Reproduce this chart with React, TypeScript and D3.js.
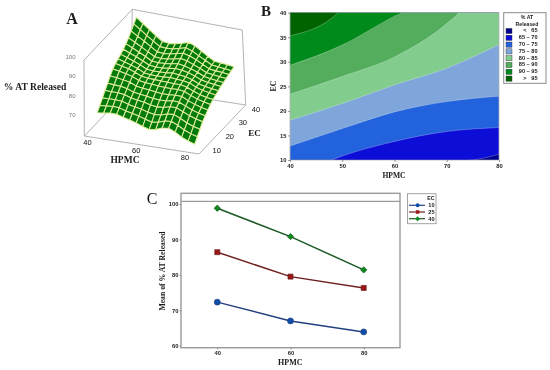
import React, { useEffect, useRef } from "react";
import * as d3 from "d3";

const SERIF = "'Liberation Serif', serif";
const SANS = "'Liberation Sans', sans-serif";

// panel A: response surface, rows run EC 10 -> 40, columns HPMC 40 -> 80
const surfaceRows = [
  [70.8, 71.2, 71.7, 71.6, 70.6, 69.7, 68.7, 67.4, 66.3, 66.8, 68.2, 68.6, 67.1, 65, 63.5, 62.4],
  [73.1, 73.4, 73.7, 73.5, 72.4, 71.6, 70.8, 69.7, 68.7, 69.2, 70.4, 70.7, 69.2, 67.3, 65.8, 64.9],
  [75.6, 75.7, 75.8, 75.5, 74.4, 73.6, 73, 71.9, 71.3, 71.5, 72.6, 72.8, 71.3, 69.5, 68.2, 67.3],
  [78.1, 78, 78, 77.5, 76.3, 75.7, 75.1, 74.3, 73.8, 74, 74.9, 74.9, 73.4, 71.8, 70.7, 69.8],
  [80.4, 80.1, 79.9, 79.2, 77.9, 77.3, 76.8, 76.2, 75.9, 76, 76.6, 76.4, 74.9, 73.4, 72.3, 71.5],
  [82.8, 82.4, 81.8, 81.1, 79.6, 79.1, 78.6, 78.1, 77.8, 77.8, 78.1, 77.9, 76.2, 74.9, 73.8, 73.1],
  [85, 84.3, 83.6, 82.6, 81.1, 80.5, 80.2, 79.8, 79.6, 79.5, 79.6, 79.1, 77.5, 76.2, 75.2, 74.5],
  [86.4, 85.5, 84.7, 83.4, 81.9, 81.4, 81.2, 81, 80.9, 80.7, 80.6, 79.9, 78.3, 77.1, 76.2, 75.6],
  [87.3, 86.3, 85.2, 84, 82.2, 81.8, 81.7, 81.7, 81.9, 81.6, 81.3, 80.6, 79, 77.9, 77.2, 76.6],
  [88.3, 87.1, 85.8, 84.4, 82.7, 82.3, 82.3, 82.5, 82.8, 82.4, 81.9, 80.9, 79.3, 78.5, 77.8, 77.3],
  [89.5, 88, 86.7, 85, 83.3, 82.9, 83, 83.4, 83.8, 83.4, 82.6, 81.4, 79.9, 79.1, 78.6, 78.1],
  [90.9, 89.3, 87.6, 85.9, 84, 83.7, 83.9, 84.3, 84.8, 84.2, 83.2, 82, 80.3, 79.7, 79.2, 78.8],
  [92.6, 90.7, 88.8, 86.9, 84.9, 84.5, 84.8, 85.3, 86.1, 85.3, 84, 82.5, 80.8, 80.3, 79.8, 79.4],
  [94.7, 92.5, 90.5, 88.2, 86, 85.7, 86, 86.7, 87.4, 86.5, 85, 83.2, 81.4, 80.9, 80.6, 80.1],
  [96.9, 94.5, 92, 89.6, 87.3, 87, 87.2, 87.9, 88.8, 87.6, 85.7, 83.9, 82, 81.5, 81.1, 80.6],
  [99, 96.3, 93.6, 91, 88.5, 88.1, 88.4, 89.2, 90.2, 88.9, 86.7, 84.5, 82.5, 82.2, 81.8, 81.3],
];
const surfaceZTicks = [70, 80, 90, 100];
const surfaceHpmcTicks = [40, 60, 80];
const surfaceEcTicks = [10, 20, 30, 40];

// panel B: contour boundaries as [HPMC, EC], clipped by the plot box
const boundary65 = [[40, 8], [75, 10], [80, 11.2]];
const boundary70 = [[40, 6], [48, 10], [59.7, 13.7], [70, 15.8], [80, 16.6]];
const boundary75 = [[40, 12.85], [50, 16.4], [60, 19.8], [70, 21.9], [80, 23]];
const boundary80 = [[40, 18.1], [50, 21.5], [60, 25.3], [70, 28.7], [80, 33.5]];
const boundary85 = [[40, 23.4], [50, 27], [60, 31], [70, 37.8], [72.3, 40], [73, 41]];
const boundary90 = [[40, 29.3], [50, 33.4], [60, 39.3], [61.3, 40], [62, 41]];
const boundary95 = [[40, 35.3], [49.2, 40], [50, 41]];
const contourBoundaries = [boundary65, boundary70, boundary75, boundary80, boundary85, boundary90, boundary95];
const contourColors = ["#050590", "#0a0ad8", "#2462dc", "#7ea6da", "#82cc8e", "#52ad5c", "#068a1c", "#006400"];
const contourLabels = ["<\u00a0\u00a0\u00a065", "65 – 70", "70 – 75", "75 – 80", "80 – 85", "85 – 90", "90 – 95", ">\u00a0\u00a0\u00a095"];
const contourXTicks = [40, 50, 60, 70, 80];
const contourYTicks = [10, 15, 20, 25, 30, 35, 40];

// panel C: interaction plot
const hpmcLevels = [40, 60, 80];
const ecLevels = ["10", "25", "40"];
const meanEc10 = [72.3, 67, 63.9];
const meanEc25 = [86.4, 79.5, 76.3];
const meanEc40 = [98.8, 90.8, 81.4];
const meanSeries = [meanEc10, meanEc25, meanEc40];
const lineColors = ["#24407f", "#6e2020", "#1c5a26"];
const markerColors = ["#0d4fa8", "#9c1414", "#0a8a1e"];
const markerShapes = [d3.symbolCircle, d3.symbolSquare, d3.symbolSquare];
const markerSizes = [28, 25, 20];
const markerTurn = [0, 0, 45];
const meanYTicks = [60, 70, 80, 90, 100];

const label = (g, x, y, text, size, opts: any = {}) =>
  g
    .append("text")
    .attr("x", x)
    .attr("y", y)
    .attr("text-anchor", opts.anchor || "middle")
    .attr("dy", "0.35em")
    .attr("font-family", opts.family || SERIF)
    .attr("font-weight", opts.weight || "bold")
    .attr("font-size", size)
    .attr("fill", opts.fill || "#1a1a1a")
    .attr("transform", opts.rotate ? `rotate(${opts.rotate},${x},${y})` : null)
    .text(text);

const drawSurface = (g) => {
  const FL = [84.3, 136];
  const FR = [199, 154];
  const BR = [245.7, 105];
  const BL = [131, 87];
  const hpmcT = d3.scaleLinear().domain([40, 80]).range([0.08, 0.93]);
  const ecT = d3.scaleLinear().domain([10, 40]).range([0.08, 0.92]);
  const lift = d3.scaleLinear().domain([60, 100]).range([0, 77]);
  const rowEc = d3.scaleLinear().domain([0, surfaceRows.length - 1]).range([10, 40]);
  const colHpmc = d3.scaleLinear().domain([0, surfaceRows[0].length - 1]).range([40, 80]);

  const floor = (u, v) => [
    FL[0] + u * (FR[0] - FL[0]) + v * (BL[0] - FL[0]),
    FL[1] + u * (FR[1] - FL[1]) + v * (BL[1] - FL[1]),
  ];
  const project = (hpmc, ec, z) => {
    const p = floor(hpmcT(hpmc), ecT(ec));
    return [p[0], p[1] - lift(z)];
  };

  // box
  const boxLines = [
    [FL, FR], [FR, BR], [FL, BL], [BL, BR],
    [FL, [84, 60]], [[84, 60], [132.3, 9.3]], [[132.3, 9.3], [242.3, 30]], [[242.3, 30], BR], [BL, [132.3, 9.3]],
  ];
  g.append("g")
    .selectAll("line")
    .data(boxLines)
    .join("line")
    .attr("x1", (d) => d[0][0])
    .attr("y1", (d) => d[0][1])
    .attr("x2", (d) => d[1][0])
    .attr("y2", (d) => d[1][1])
    .attr("stroke", "#aaaaaa")
    .attr("stroke-width", 0.9);

  // cells back to front
  const cellLine = d3.line();
  const mesh = g.append("g");
  for (let j = surfaceRows.length - 2; j >= 0; j--) {
    for (let i = 0; i < surfaceRows[j].length - 1; i++) {
      const a = project(colHpmc(i), rowEc(j), surfaceRows[j][i]);
      const b = project(colHpmc(i + 1), rowEc(j), surfaceRows[j][i + 1]);
      const c = project(colHpmc(i + 1), rowEc(j + 1), surfaceRows[j + 1][i + 1]);
      const e = project(colHpmc(i), rowEc(j + 1), surfaceRows[j + 1][i]);
      mesh
        .append("path")
        .attr("d", cellLine([a, b, c, e]) + "Z")
        .attr("fill", "#067a0c")
        .attr("stroke", "#dcec96")
        .attr("stroke-width", 1.05)
        .attr("stroke-linejoin", "round");
    }
  }

  surfaceZTicks.forEach((t) => {
    label(g, 75.5, FL[1] - lift(t) - 2, String(t), 6, { family: SANS, weight: "normal", fill: "#777", anchor: "end" });
  });
  surfaceHpmcTicks.forEach((t) => {
    const p = floor(hpmcT(t), 0);
    label(g, p[0] - 6, p[1] + 5, String(t), 7.5, { family: SANS, weight: "normal", fill: "#111" });
  });
  surfaceEcTicks.forEach((t) => {
    const v = ecT(t);
    label(g, FR[0] + v * (BR[0] - FR[0]) + 14, FR[1] + v * (BR[1] - FR[1]), String(t), 7.5, { family: SANS, weight: "normal", fill: "#111" });
  });
  label(g, 35, 87, "% AT Released", 9.6);
  label(g, 125, 159.5, "HPMC", 9.5);
  label(g, 254.5, 132.5, "EC", 9);
  label(g, 72, 18, "A", 16);
};

const drawContour = (g) => {
  const x = d3.scaleLinear().domain([40, 80]).range([290, 499]);
  const y = d3.scaleLinear().domain([10, 40]).range([160, 12.7]);

  g.append("clipPath")
    .attr("id", "contour-clip")
    .append("rect")
    .attr("x", 290)
    .attr("y", 12.7)
    .attr("width", 209)
    .attr("height", 147.3);

  const plot = g.append("g").attr("clip-path", "url(#contour-clip)");
  plot.append("rect").attr("x", 290).attr("y", 12.7).attr("width", 209).attr("height", 147.3).attr("fill", contourColors[0]);

  const area = d3
    .area()
    .x((d) => x(d[0]))
    .y0((d) => y(d[1]))
    .y1(y(42))
    .curve(d3.curveMonotoneX);

  contourBoundaries.forEach((b, k) => {
    plot
      .append("path")
      .attr("d", area(b))
      .attr("fill", contourColors[k + 1])
      .attr("stroke", "#ffffff")
      .attr("stroke-opacity", 0.45)
      .attr("stroke-width", 0.6);
  });

  g.append("rect")
    .attr("x", 290)
    .attr("y", 12.7)
    .attr("width", 209)
    .attr("height", 147.3)
    .attr("fill", "none")
    .attr("stroke", "#9a9a9a")
    .attr("stroke-width", 0.6);

  const xAxis = g
    .append("g")
    .attr("transform", "translate(0,160)")
    .call(d3.axisBottom(x).tickValues(contourXTicks).tickSize(2).tickPadding(1.5));
  const yAxis = g
    .append("g")
    .attr("transform", "translate(290,0)")
    .call(d3.axisLeft(y).tickValues(contourYTicks).tickSize(2).tickPadding(1.5));
  [xAxis, yAxis].forEach((a) => {
    a.select(".domain").remove();
    a.selectAll("line").attr("stroke", "#555").attr("stroke-width", 0.6);
    a.selectAll("text").attr("font-family", SANS).attr("font-weight", "bold").attr("font-size", 5.8).attr("fill", "#222");
  });

  label(g, 394, 175, "HPMC", 7.6);
  label(g, 273, 86, "EC", 7.8, { rotate: -90 });
  label(g, 266, 11, "B", 15);

  // legend
  g.append("rect")
    .attr("x", 503.7)
    .attr("y", 12.7)
    .attr("width", 42.3)
    .attr("height", 70.6)
    .attr("fill", "#fff")
    .attr("stroke", "#8a8a8a")
    .attr("stroke-width", 1);
  label(g, 527, 17.5, "% AT", 5.2, { family: SANS });
  label(g, 527, 24.6, "Released", 5.2, { family: SANS });
  const row = d3.scaleLinear().domain([0, 7]).range([31, 78.6]);
  contourLabels.forEach((t, k) => {
    g.append("rect")
      .attr("x", 506)
      .attr("y", row(k) - 2.6)
      .attr("width", 6)
      .attr("height", 5.2)
      .attr("fill", contourColors[k])
      .attr("stroke", "#333")
      .attr("stroke-width", 0.4);
    label(g, 537.5, row(k) - 0.6, t, 5.6, { family: SANS, anchor: "end" });
  });
};

const drawInteraction = (g) => {
  const x = d3.scalePoint().domain(hpmcLevels.map(String)).range([217.3, 363.7]);
  const y = d3.scaleLinear().domain([60, 100]).range([345.7, 204]);

  g.append("rect")
    .attr("x", 181)
    .attr("y", 193.3)
    .attr("width", 219)
    .attr("height", 154.4)
    .attr("fill", "#fff")
    .attr("stroke", "#9a9a9a")
    .attr("stroke-width", 1.4);
  g.append("line").attr("x1", 181).attr("x2", 400).attr("y1", 201.3).attr("y2", 201.3).attr("stroke", "#9a9a9a").attr("stroke-width", 1.2);

  const xAxis = g
    .append("g")
    .attr("transform", "translate(0,347.7)")
    .call(d3.axisBottom(x).tickSize(2).tickPadding(1.5));
  const yAxis = g
    .append("g")
    .attr("transform", "translate(181,0)")
    .call(d3.axisLeft(y).tickValues(meanYTicks).tickSize(1.5).tickPadding(1));
  [xAxis, yAxis].forEach((a) => {
    a.select(".domain").remove();
    a.selectAll("line").attr("stroke", "#666").attr("stroke-width", 0.6);
    a.selectAll("text").attr("font-family", SANS).attr("font-weight", "bold").attr("font-size", 5.8).attr("fill", "#222");
  });

  const line = d3
    .line()
    .x((_, i) => x(String(hpmcLevels[i])))
    .y((d) => y(d));

  meanSeries.forEach((values, k) => {
    g.append("path").attr("d", line(values)).attr("fill", "none").attr("stroke", lineColors[k]).attr("stroke-width", 1.5);
    g.append("g")
      .selectAll("path")
      .data(values)
      .join("path")
      .attr("d", d3.symbol().type(markerShapes[k]).size(markerSizes[k]))
      .attr("transform", (d, i) => `translate(${x(String(hpmcLevels[i]))},${y(d)}) rotate(${markerTurn[k]})`)
      .attr("fill", markerColors[k])
      .attr("stroke", lineColors[k])
      .attr("stroke-width", 0.7);
  });

  label(g, 290.3, 362, "HPMC", 8);
  label(g, 162, 271, "Mean of % AT Released", 7.7, { rotate: -90 });
  label(g, 152, 198, "C", 16, { weight: "normal", fill: "#111" });

  // legend
  g.append("rect")
    .attr("x", 407.5)
    .attr("y", 193.7)
    .attr("width", 28.5)
    .attr("height", 30)
    .attr("fill", "#fff")
    .attr("stroke", "#9a9a9a")
    .attr("stroke-width", 0.9);
  label(g, 434.5, 198.5, "EC", 5.2, { family: SANS, anchor: "end" });
  const row = d3.scaleLinear().domain([0, 2]).range([205.3, 218.7]);
  ecLevels.forEach((t, k) => {
    g.append("line").attr("x1", 409).attr("x2", 425).attr("y1", row(k)).attr("y2", row(k)).attr("stroke", lineColors[k]).attr("stroke-width", 1.2);
    g.append("path")
      .attr("d", d3.symbol().type(markerShapes[k]).size(12))
      .attr("transform", `translate(417.6,${row(k)}) rotate(${markerTurn[k]})`)
      .attr("fill", markerColors[k]);
    label(g, 434.5, row(k), t, 5.6, { family: SANS, anchor: "end" });
  });
};

const App = () => {
  const ref = useRef(null);

  useEffect(() => {
    const svg = d3.select(ref.current);
    svg.selectAll("*").remove();
    const blur = svg.append("defs").append("filter").attr("id", "soft").attr("x", "0").attr("y", "0").attr("width", "100%").attr("height", "100%");
    blur.append("feGaussianBlur").attr("stdDeviation", 0.3);
    const root = svg.append("g").attr("filter", "url(#soft)");
    root.append("rect").attr("width", 550).attr("height", 370).attr("fill", "#fff");
    drawSurface(root.append("g"));
    drawContour(root.append("g"));
    drawInteraction(root.append("g"));
  }, []);

  return <svg ref={ref} width={550} height={370} style={{ position: "absolute", left: 0, top: 0 }} />;
};

export default App;
